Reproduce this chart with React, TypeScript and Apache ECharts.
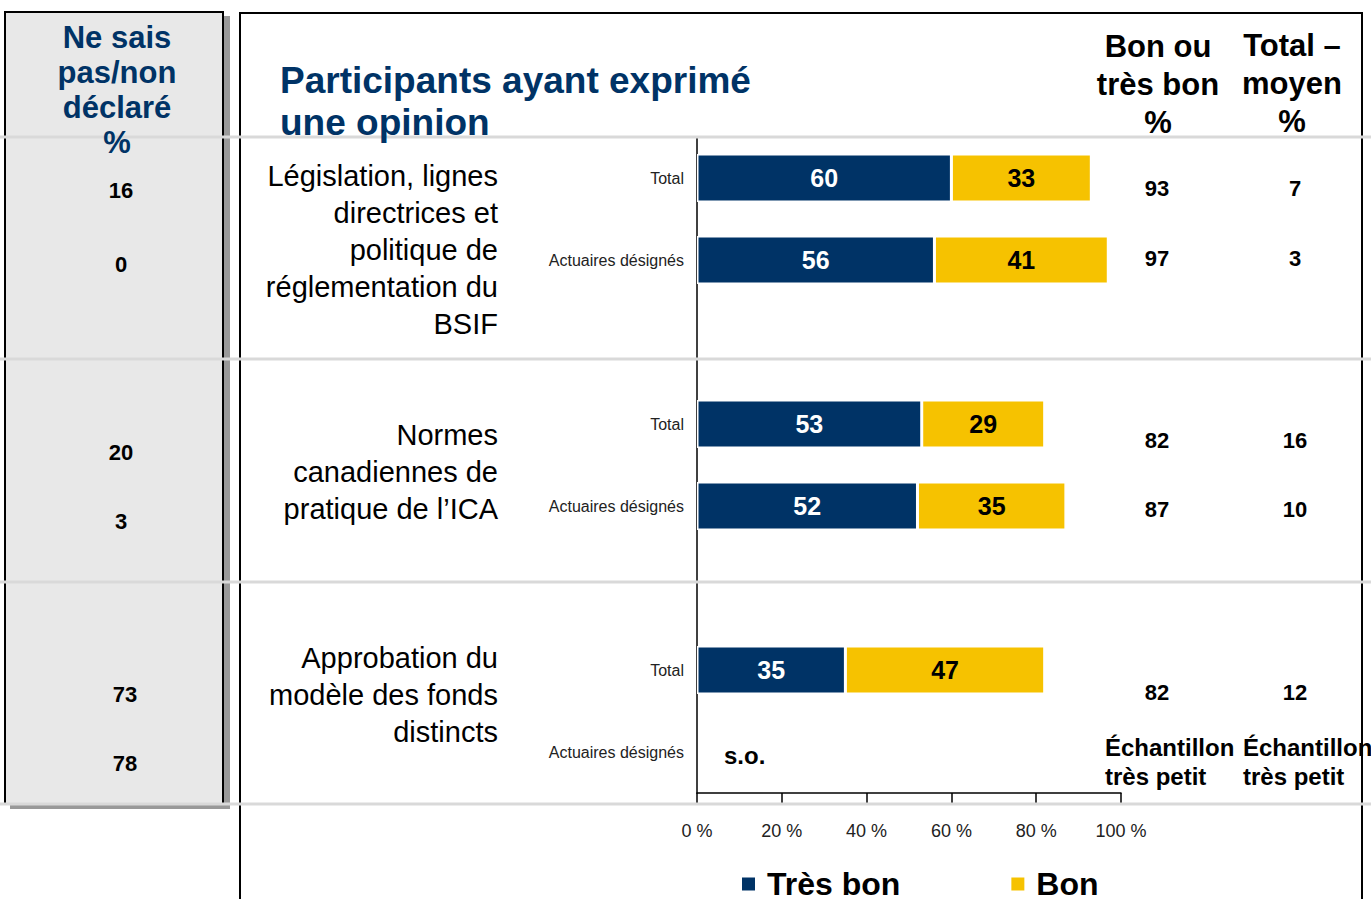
import React, { useEffect, useRef } from "react";
import * as echarts from "echarts";

// ---- Data ----
const groupNames = [
  "Législation, lignes\ndirectrices et\npolitique de\nréglementation du\nBSIF",
  "Normes\ncanadiennes de\npratique de l’ICA",
  "Approbation du\nmodèle des fonds\ndistincts",
];
const subgroups = ["Total", "Actuaires désignés"];
// rows in order: G1 Total, G1 AD, G2 Total, G2 AD, G3 Total, G3 AD
const tresBon: (number | null)[] = [60, 56, 53, 52, 35, null];
const bon: (number | null)[] = [33, 41, 29, 35, 47, null];
const bonOuTresBon = ["93", "97", "82", "87", "82", "Échantillon\ntrès petit"];
const totalMoyen = ["7", "3", "16", "10", "12", "Échantillon\ntrès petit"];
const nspValues = ["16", "0", "20", "3", "73", "78"];
const xTicks = [0, 20, 40, 60, 80, 100];
const seriesNames = ["Très bon", "Bon"];
const naLabel = "s.o.";

// ---- Style ----
const NAVY = "#003366";
const YELLOW = "#f6c200";
const FONT = "'Liberation Sans', Arial, sans-serif";

export default function App() {
  const ref = useRef<HTMLDivElement>(null);

  useEffect(() => {
    if (!ref.current) return;
    const chart = echarts.init(ref.current, null, { renderer: "svg" });

    // build category slots with a spacer between groups
    const cats: string[] = [];
    const catLabel: Record<string, string> = {};
    const rowIndex: number[] = [];
    groupNames.forEach((_, g) => {
      subgroups.forEach((s, k) => {
        const key = `g${g}-${k}`;
        catLabel[key] = s;
        rowIndex.push(cats.length);
        cats.push(key);
      });
      if (g < groupNames.length - 1) {
        const key = `gap${g}`;
        catLabel[key] = "";
        cats.push(key);
      }
    });
    const tbData = cats.map(() => null as number | null);
    const bData = cats.map(() => null as number | null);
    rowIndex.forEach((ci, r) => {
      tbData[ci] = tresBon[r];
      bData[ci] = bon[r];
    });

    const txt = (
      text: string,
      x: number,
      y: number,
      font: string,
      fill: string,
      align: string = "center",
      lineHeight?: number,
      vAlign: string = "middle"
    ) => ({
      type: "text",
      x,
      y,
      z: 20,
      style: {
        text,
        font,
        fill,
        align,
        verticalAlign: vAlign,
        lineHeight,
      },
    });

    const graphics: any[] = [];
    // left panel shadow + panel
    graphics.push({ type: "rect", z: 1, shape: { x: 224, y: 16, width: 6, height: 793 }, style: { fill: "#999" } });
    graphics.push({ type: "rect", z: 1, shape: { x: 10, y: 804, width: 220, height: 5 }, style: { fill: "#999" } });
    graphics.push({
      type: "rect",
      z: 2,
      shape: { x: 5, y: 12, width: 218, height: 792 },
      style: { fill: "#e8e8e8", stroke: "#000", lineWidth: 2 },
    });
    // main box
    graphics.push({
      type: "rect",
      z: 2,
      shape: { x: 240, y: 13, width: 1122, height: 920 },
      style: { fill: "none", stroke: "#000", lineWidth: 2 },
    });
    // separators
    [137, 359, 582, 804].forEach((y) =>
      graphics.push({
        type: "line",
        z: 3,
        shape: { x1: 0, y1: y, x2: 1371, y2: y },
        style: { stroke: "#d9d9d9", lineWidth: 3 },
      })
    );
    // headers
    graphics.push(txt("Ne sais\npas/non\ndéclaré\n%", 117, 20, `bold 31px ${FONT}`, NAVY, "center", 35, "top"));
    graphics.push(txt("Participants ayant exprimé\nune opinion", 280, 59, `bold 37px ${FONT}`, NAVY, "left", 42, "top"));
    graphics.push(txt("Bon ou\ntrès bon\n%", 1158, 27, `bold 31px ${FONT}`, "#000", "center", 38, "top"));
    graphics.push(txt("Total –\nmoyen\n%", 1292, 26, `bold 31px ${FONT}`, "#000", "center", 38, "top"));
    // group labels
    const groupMid = [250, 472, 695];
    groupNames.forEach((g, i) =>
      graphics.push(txt(g, 498, groupMid[i], `29px ${FONT}`, "#000", "right", 37, "middle"))
    );
    // left values
    const leftX = [121, 121, 121, 121, 125, 125];
    const leftY = [190, 264, 452, 521, 694, 763];
    nspValues.forEach((v, i) => graphics.push(txt(v, leftX[i], leftY[i], `bold 22px ${FONT}`, "#000")));
    // right values
    const rightY = [188, 258, 440, 509, 692];
    bonOuTresBon.forEach((v, i) => {
      if (i < rightY.length) {
        graphics.push(txt(v, 1157, rightY[i], `bold 22px ${FONT}`, "#000"));
        graphics.push(txt(totalMoyen[i], 1295, rightY[i], `bold 22px ${FONT}`, "#000"));
      } else {
        graphics.push(txt(v, 1105, 733, `bold 24px ${FONT}`, "#000", "left", 29, "top"));
        graphics.push(txt(totalMoyen[i], 1243, 733, `bold 24px ${FONT}`, "#000", "left", 29, "top"));
      }
    });
    // s.o.
    graphics.push(txt(naLabel, 724, 755, `bold 24px ${FONT}`, "#000", "left"));

    const option: any = {
      animation: false,
      backgroundColor: "#fff",
      textStyle: { fontFamily: FONT },
      grid: { left: 697, top: 137, width: 424, height: 656, containLabel: false },
      legend: {
        data: seriesNames,
        left: 740,
        top: 868,
        padding: 0,
        icon: "rect",
        itemWidth: 15,
        itemHeight: 15,
        itemGap: 109,
        textStyle: { fontSize: 32, fontWeight: "bold", color: "#000", fontFamily: FONT, padding: [0, 0, 0, 6] },
      },
      xAxis: {
        type: "value",
        min: xTicks[0],
        max: xTicks[xTicks.length - 1],
        interval: xTicks[1] - xTicks[0],
        axisLine: { show: true, lineStyle: { color: "#000", width: 1.5 } },
        axisTick: { show: true, length: 10, lineStyle: { color: "#000", width: 1.5 } },
        axisLabel: { formatter: "{value} %", fontSize: 18, color: "#222", margin: 29, fontFamily: FONT },
        splitLine: { show: false },
      },
      yAxis: {
        type: "category",
        inverse: true,
        data: cats,
        axisLine: { show: true, lineStyle: { color: "#000", width: 1.5 } },
        axisTick: { show: false },
        axisLabel: {
          formatter: (v: string) => catLabel[v] ?? "",
          fontSize: 16,
          color: "#222",
          margin: 13,
          fontFamily: FONT,
        },
      },
      series: [
        {
          name: seriesNames[0],
          type: "bar",
          stack: "s",
          barWidth: 48,
          data: tbData,
          itemStyle: { color: NAVY, borderColor: "#fff", borderWidth: 1.5 },
          label: {
            show: true,
            position: "inside",
            color: "#fff",
            fontSize: 25,
            fontWeight: "bold",
            fontFamily: FONT,
            formatter: (p: any) => (p.value == null ? "" : String(p.value)),
          },
        },
        {
          name: seriesNames[1],
          type: "bar",
          stack: "s",
          barWidth: 48,
          data: bData,
          itemStyle: { color: YELLOW, borderColor: "#fff", borderWidth: 1.5 },
          label: {
            show: true,
            position: "inside",
            color: "#000",
            fontSize: 25,
            fontWeight: "bold",
            fontFamily: FONT,
            formatter: (p: any) => (p.value == null ? "" : String(p.value)),
          },
        },
      ],
      graphic: { elements: graphics },
    };
    chart.setOption(option);
    return () => chart.dispose();
  }, []);

  return (
    <div
      ref={ref}
      style={{ position: "absolute", left: 0, top: 0, width: 1371, height: 899 }}
    />
  );
}
